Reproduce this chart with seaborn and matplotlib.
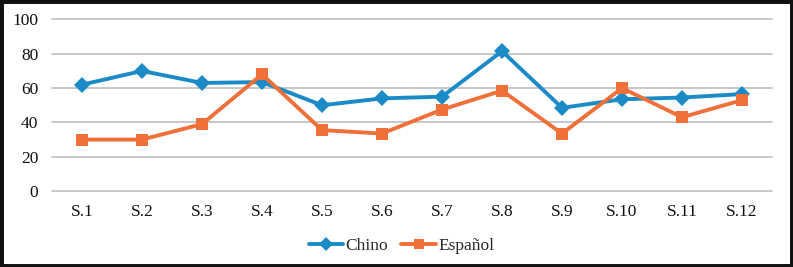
import pandas as pd
import seaborn as sns
import matplotlib.pyplot as plt
from matplotlib.patches import Rectangle

# Values
sesiones = ['S.1', 'S.2', 'S.3', 'S.4', 'S.5', 'S.6', 'S.7', 'S.8', 'S.9', 'S.10', 'S.11', 'S.12']
chino = [62, 70, 63, 63.5, 50, 54, 55, 81.5, 48.5, 53.5, 54.5, 56.5]
espanol = [30, 30, 39, 68, 35.5, 33.5, 47.5, 58.5, 33.5, 60, 43, 53]

data = pd.DataFrame({
    'Sesion': sesiones * 2,
    'Valor': chino + espanol,
    'Idioma': ['Chino'] * len(sesiones) + ['Español'] * len(sesiones),
})

sns.set_style('white')
plt.rcParams['font.family'] = ['Liberation Serif', 'DejaVu Serif']

fig = plt.figure(figsize=(7.93, 2.67), dpi=100)
ax = fig.add_axes([0.0656, 0.2846, 0.908, 0.6424])

colores = {'Chino': '#1a8bc7', 'Español': '#f0703a'}
marcas = {'Chino': 'D', 'Español': 's'}

sns.lineplot(data=data, x='Sesion', y='Valor', hue='Idioma', style='Idioma',
             palette=colores, markers=marcas, dashes=False, linewidth=2.8,
             markersize=8, markeredgewidth=0, ax=ax, sort=False)

ax.set_xlim(-0.5, len(sesiones) - 0.5)
ax.set_ylim(0, 100)
ax.set_yticks(range(0, 101, 20))
ax.yaxis.grid(True, color='#bdbdbd', linewidth=1.2)
for gl in ax.get_ygridlines():
    gl.set_clip_on(False)
ax.set_axisbelow(True)
for s in ax.spines.values():
    s.set_visible(False)
ax.tick_params(axis='both', length=0, labelsize=12.5, colors='#111111')
ax.tick_params(axis='x', pad=9)
ax.tick_params(axis='y', pad=10)
ax.set_xlabel('')
ax.set_ylabel('')

handles, labels = ax.get_legend_handles_labels()
ax.legend(handles, labels, loc='upper center', bbox_to_anchor=(0.485, -0.235),
          ncol=2, frameon=False, fontsize=12.5, handlelength=2.0,
          handletextpad=0.1, columnspacing=0.8, borderaxespad=0,
          markerscale=0.85)

# dark frame around the picture
fig.patches.append(Rectangle((0, 0), 1, 1, transform=fig.transFigure,
                             fill=False, edgecolor='#111111', linewidth=5))

fig.savefig('out.png', dpi=100)
